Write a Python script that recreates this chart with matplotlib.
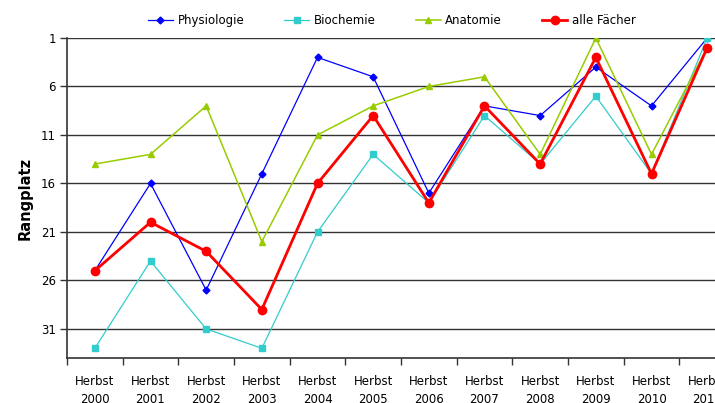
import numpy as np
import matplotlib.pyplot as plt
from matplotlib.ticker import FixedLocator

# Ranking per subject, autumn exams 2000-2011 (1 = best)
semesters = ["Herbst\n2000", "Herbst\n2001", "Herbst\n2002", "Herbst\n2003",
             "Herbst\n2004", "Herbst\n2005", "Herbst\n2006", "Herbst\n2007",
             "Herbst\n2008", "Herbst\n2009", "Herbst\n2010", "Herbst\n2011"]
physiologie = [25, 16, 27, 15, 3, 5, 17, 8, 9, 4, 8, 1]
biochemie = [33, 24, 31, 33, 21, 13, 18, 9, 14, 7, 15, 1]
anatomie = [14, 13, 8, 22, 11, 8, 6, 5, 13, 1, 13, 2]
alle_faecher = [25, 20, 23, 29, 16, 9, 18, 8, 14, 3, 15, 2]
y_ticks = [1, 6, 11, 16, 21, 26, 31]

plt.rcParams["font.family"] = ["DejaVu Sans"]

fig = plt.figure(figsize=(7.15, 4.03), dpi=100)
# plot area runs past the right edge of the canvas
ax = fig.add_axes([67 / 715, 45 / 403, 668 / 715, 320 / 403])

x = np.arange(len(semesters))
ax.plot(x, physiologie, color="#0000ff", lw=0.9, marker="D", ms=3.5, label="Physiologie")
ax.plot(x, biochemie, color="#33cccc", lw=0.9, marker="s", ms=4, label="Biochemie")
ax.plot(x, anatomie, color="#99cc00", lw=1.1, marker="^", ms=4.5, label="Anatomie")
ax.plot(x, alle_faecher, color="#ff0000", lw=2.0, marker="o", ms=6, label="alle Fächer")

ax.set_ylim(34, 1)
ax.set_xlim(-0.5, len(semesters) - 0.5)
ax.set_yticks(y_ticks)
ax.yaxis.grid(True, color="#333333", lw=1)
ax.set_axisbelow(True)
ax.tick_params(axis="y", length=5, width=1, color="#333333", labelsize=8.5, pad=3)

ax.set_xticks(x)
ax.set_xticklabels(semesters, fontsize=8.5, linespacing=1.5)
ax.tick_params(axis="x", which="major", length=0, pad=12)
ax.xaxis.set_minor_locator(FixedLocator(np.arange(-0.5, len(semesters), 1)))
ax.tick_params(axis="x", which="minor", length=5, width=1, color="#333333")

for side in ["top", "right"]:
    ax.spines[side].set_visible(False)
for side in ["left", "bottom"]:
    ax.spines[side].set_color("#333333")
    ax.spines[side].set_linewidth(1.2)

ax.set_ylabel("Rangplatz", fontsize=10.5, fontweight="bold", labelpad=6)

fig.legend(loc="center", bbox_to_anchor=(0.548, 0.95), ncol=4, frameon=False,
           fontsize=8.5, handlelength=2.1, columnspacing=3.4, handletextpad=0.4)

fig.savefig("out.png", dpi=100)
